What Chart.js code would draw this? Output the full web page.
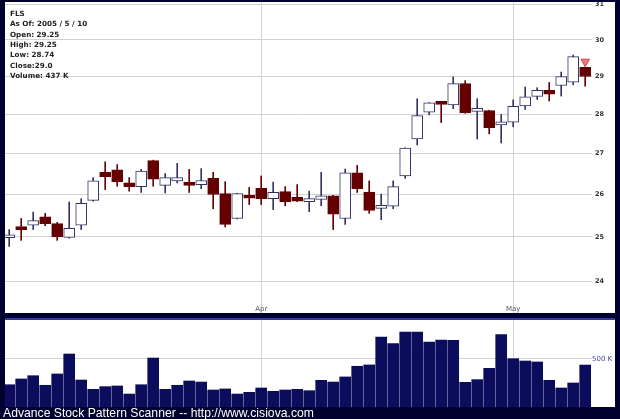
<!DOCTYPE html>
<html>
<head>
<meta charset="utf-8">
<script src="https://cdn.jsdelivr.net/npm/chart.js@4.4.0/dist/chart.umd.min.js"></script>
<style>
  html, body { margin: 0; padding: 0; }
  body { width: 620px; height: 419px; background: #00002e; position: relative; overflow: hidden; }
  .panel { position: absolute; left: 5px; width: 610px; background: #fff; }
  #pricePanel { top: 2px; height: 311px; }
  #volPanel { top: 320px; height: 87px; }
  #sepLine { position: absolute; left: 5px; width: 610px; top: 318px; height: 2px; background: #3636a6; }
  #info { position: absolute; left: 10px; top: 9px; font: bold 7.2px "DejaVu Sans", sans-serif; line-height: 10.33px; color: #222; }
  #footer { position: absolute; left: 3px; top: 406px; font: 12.2px "Liberation Sans", Arial, sans-serif; line-height: 14px; color: #fff; white-space: nowrap; }
  canvas { display: block; }
</style>
</head>
<body>
<div id="pricePanel" class="panel"><canvas id="priceChart" width="610" height="311"></canvas></div>
<div id="sepLine"></div>
<div id="volPanel" class="panel"><canvas id="volChart" width="610" height="87"></canvas></div>
<div id="info">
  <div>FLS</div>
  <div>As Of: 2005 / 5 / 10</div>
  <div>Open: 29.25</div>
  <div>High: 29.25</div>
  <div>Low: 28.74</div>
  <div>Close:29.0</div>
  <div>Volume: 437 K</div>
</div>
<div id="footer">Advance Stock Pattern Scanner -- http://www.cisiova.com</div>
<script>
// trading days, 2005-03-02 .. 2005-05-10
const dates = [
    '03-02', '03-03', '03-04', '03-07', '03-08', '03-09', '03-10', '03-11',
    '03-14', '03-15', '03-16', '03-17', '03-18', '03-21', '03-22', '03-23',
    '03-24', '03-28', '03-29', '03-30', '03-31',
    '04-01', '04-04', '04-05', '04-06', '04-07', '04-08', '04-11', '04-12',
    '04-13', '04-14', '04-15', '04-18', '04-19', '04-20', '04-21', '04-22',
    '04-25', '04-26', '04-27', '04-28', '04-29',
    '05-02', '05-03', '05-04', '05-05', '05-06', '05-09', '05-10'
];
const opens = [
    24.98, 25.20, 25.27, 25.47, 25.31, 24.99, 25.27, 25.86, 26.54, 26.60,
    26.28, 26.19, 26.83, 26.22, 26.33, 26.24, 26.24, 26.39, 26.02, 25.43,
    25.93, 26.15, 25.90, 26.07, 25.93, 25.83, 25.88, 25.97, 25.43, 26.53,
    26.06, 25.67, 25.72, 26.45, 27.37, 28.06, 28.31, 28.25, 28.81, 28.08,
    28.10, 27.73, 27.80, 28.22, 28.47, 28.63, 28.76, 28.85, 29.25
];
const highs = [
    25.17, 25.43, 25.58, 25.55, 25.34, 25.82, 25.90, 26.41, 26.80, 26.73,
    26.41, 26.61, 26.84, 26.51, 26.76, 26.61, 26.63, 26.54, 26.31, 26.03,
    26.17, 26.45, 26.30, 26.19, 26.24, 26.08, 26.54, 25.98, 26.62, 26.71,
    26.33, 26.01, 26.33, 27.15, 28.41, 28.31, 28.32, 28.99, 28.89, 28.41,
    28.11, 28.00, 28.38, 28.72, 28.70, 28.84, 29.12, 29.58, 29.25
];
const lows = [
    24.78, 24.92, 25.17, 25.26, 24.92, 24.97, 25.17, 25.84, 26.12, 26.20,
    26.08, 26.05, 26.20, 26.04, 26.28, 26.05, 26.14, 25.66, 25.23, 25.42,
    25.76, 25.76, 25.64, 25.73, 25.83, 25.59, 25.73, 25.17, 25.29, 26.05,
    25.55, 25.40, 25.66, 26.39, 27.22, 27.99, 27.79, 28.15, 28.03, 27.37,
    27.50, 27.27, 27.68, 28.13, 28.39, 28.35, 28.48, 28.78, 28.74
];
const closes = [
    25.00, 25.17, 25.38, 25.31, 25.00, 25.20, 25.79, 26.33, 26.43, 26.31,
    26.19, 26.57, 26.37, 26.41, 26.41, 26.22, 26.34, 26.00, 25.29, 26.02,
    25.91, 25.90, 26.05, 25.82, 25.84, 25.90, 25.97, 25.53, 26.53, 26.14,
    25.62, 25.72, 26.19, 27.14, 27.97, 28.30, 28.26, 28.81, 28.04, 28.14,
    27.66, 27.80, 28.21, 28.46, 28.63, 28.53, 29.00, 29.54, 29.00
];
// volume in thousands
const volumes = [
    232, 292, 326, 226, 344, 552, 281, 184, 212, 219,
    135, 232, 510, 184, 226, 271, 260, 177, 188, 135,
    153, 198, 163, 177, 184, 170, 278, 260, 313, 424,
    438, 729, 660, 781, 781, 677, 698, 695, 257, 285,
    403, 753, 503, 479, 469, 278, 198, 250, 437
];
// pattern signal marker
const signalIdx = [48];
const signalVal = [29.4];

const priceTicks = [24, 25, 26, 27, 28, 29, 30, 31];
const monthIdx = [21, 42];
const monthLabels = ['Apr', 'May'];
const volTicks = [500000];

const X_MIN = -0.35, X_MAX = 48.567;
const UP = '#333366', DOWN = '#640000';
const isUp = i => closes[i] >= opens[i];

const xScale = (showLabels) => ({
    type: 'linear',
    min: X_MIN,
    max: X_MAX,
    offset: false,
    grid: { color: '#d2d2d2', drawTicks: false, offset: false },
    border: { display: false },
    ticks: {
        display: showLabels,
        mirror: true,
        padding: 0,
        color: '#555',
        font: { family: 'DejaVu Sans', size: 7 },
        callback: v => monthLabels[monthIdx.indexOf(v)] || ''
    },
    afterBuildTicks: s => { s.ticks = monthIdx.map(v => ({ value: v })); },
    afterFit: s => { s.height = 0; s.paddingLeft = 0; s.paddingRight = 0; }
});

const baseOptions = {
    responsive: false,
    animation: false,
    devicePixelRatio: 1,
    layout: { padding: 0, autoPadding: false },
    plugins: { legend: { display: false }, tooltip: { enabled: false } }
};

new Chart(document.getElementById('priceChart'), {
    type: 'bar',
    data: {
        datasets: [
            {
                type: 'scatter',
                data: signalIdx.map((x, k) => ({ x: x, y: signalVal[k] })),
                pointStyle: 'triangle',
                rotation: 180,
                radius: 5,
                backgroundColor: '#ee7777',
                borderColor: '#c84848',
                borderWidth: 1
            },
            {
                data: dates.map((d, i) => ({ x: i, y: [opens[i], closes[i]] })),
                backgroundColor: dates.map((d, i) => isUp(i) ? '#ffffff' : DOWN),
                borderColor: dates.map((d, i) => isUp(i) ? UP : DOWN),
                borderWidth: 1,
                borderSkipped: false,
                barThickness: 11,
                minBarLength: 3,
                grouped: false
            },
            {
                data: dates.map((d, i) => ({ x: i, y: [lows[i], highs[i]] })),
                backgroundColor: dates.map((d, i) => isUp(i) ? UP : DOWN),
                barThickness: 1,
                grouped: false
            }
        ]
    },
    options: {
        ...baseOptions,
        scales: {
            x: xScale(true),
            y: {
                type: 'logarithmic',
                position: 'right',
                min: 23.30,
                max: 31.07,
                beginAtZero: false,
                grid: { color: '#d2d2d2', drawTicks: false },
                border: { display: false },
                ticks: {
                    padding: 3,
                    color: '#333',
                    font: { family: 'DejaVu Sans', size: 6.5, weight: 'bold' },
                    callback: v => String(v)
                },
                afterBuildTicks: s => { s.ticks = priceTicks.map(v => ({ value: v })); },
                afterFit: s => { s.width = 23; s.paddingTop = 0; s.paddingBottom = 0; }
            }
        }
    }
});

new Chart(document.getElementById('volChart'), {
    type: 'bar',
    data: {
        datasets: [{
            data: volumes.map((v, i) => ({ x: i, y: v * 1000 })),
            backgroundColor: '#0c0c5c',
            barThickness: 11,
            grouped: false
        }]
    },
    options: {
        ...baseOptions,
        scales: {
            x: xScale(false),
            y: {
                type: 'linear',
                position: 'right',
                min: 0,
                max: 906000,
                grid: { color: '#d2d2d2', drawTicks: false },
                border: { display: false },
                ticks: {
                    padding: 0,
                    color: '#4a4aa8',
                    font: { family: 'DejaVu Sans', size: 7 },
                    callback: v => (v / 1000) + ' K'
                },
                afterBuildTicks: s => { s.ticks = volTicks.map(v => ({ value: v })); },
                afterFit: s => { s.width = 23; s.paddingTop = 0; s.paddingBottom = 0; }
            }
        }
    }
});
</script>
</body>
</html>
